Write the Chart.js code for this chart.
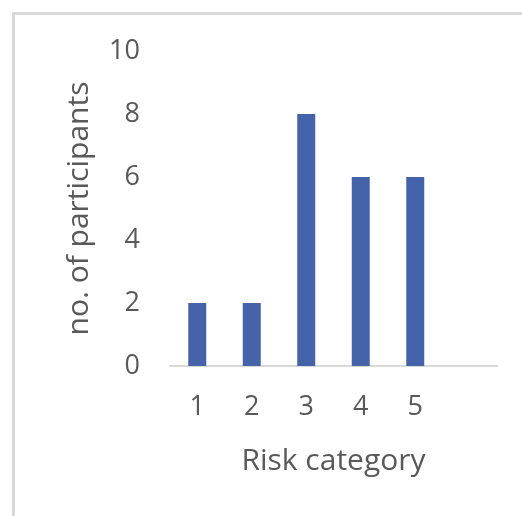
<!DOCTYPE html>
<html>
<head>
<meta charset="utf-8">
<script src="https://cdn.jsdelivr.net/npm/chart.js@4"></script>
<style>
  html, body { margin: 0; padding: 0; background: #fff; }
  .frame {
    position: absolute;
    left: 12px;
    top: 12px;
    width: 510px;
    height: 504px;
    border-top: 3px solid #d9d9d9;
    border-left: 3px solid #d9d9d9;
    box-sizing: border-box;
  }
  .wrap { position: absolute; left: 0; top: 0; width: 522px; height: 516px; }
</style>
</head>
<body>
<div class="frame"></div>
<div class="wrap"><canvas id="chart" width="522" height="516"></canvas></div>
<script>
const categories = ["1", "2", "3", "4", "5", ""];
const participants = [2, 2, 8, 6, 6, null];
const yTicks = [0, 2, 4, 6, 8, 10];

const textColor = "#595959";
const fontFamily = "'Open Sans', sans-serif";

new Chart(document.getElementById("chart"), {
  type: "bar",
  data: {
    labels: categories,
    datasets: [
      {
        label: "no. of participants",
        data: participants,
        backgroundColor: "#4563a8",
        categoryPercentage: 1,
        barPercentage: 0.33,
      },
    ],
  },
  options: {
    responsive: false,
    animation: false,
    layout: {
      padding: { top: 51, right: 25, left: 0, bottom: 0 },
    },
    plugins: {
      legend: { display: false },
      tooltip: { enabled: false },
    },
    scales: {
      x: {
        grid: { display: false, drawTicks: false },
        border: { display: true, color: "#d9d9d9", width: 2 },
        ticks: {
          color: textColor,
          font: { family: fontFamily, size: 27 },
          padding: 25,
          maxRotation: 0,
        },
        title: {
          display: true,
          text: "Risk category",
          color: textColor,
          font: { family: fontFamily, size: 30 },
          padding: { top: 0, bottom: 37 },
        },
        afterFit: (scale) => {
          scale.height = 150;
        },
      },
      y: {
        min: 0,
        max: 10,
        grid: { display: false, drawTicks: false },
        border: { display: false },
        afterBuildTicks: (scale) => {
          scale.ticks = yTicks.map((value) => ({ value }));
        },
        ticks: {
          color: textColor,
          font: { family: fontFamily, size: 27 },
          padding: 30,
        },
        title: {
          display: true,
          text: "no. of participants",
          color: textColor,
          font: { family: fontFamily, size: 30 },
          padding: { top: 61, bottom: 0 },
        },
        afterFit: (scale) => {
          scale.width = 170;
        },
      },
    },
  },
});
</script>
</body>
</html>
